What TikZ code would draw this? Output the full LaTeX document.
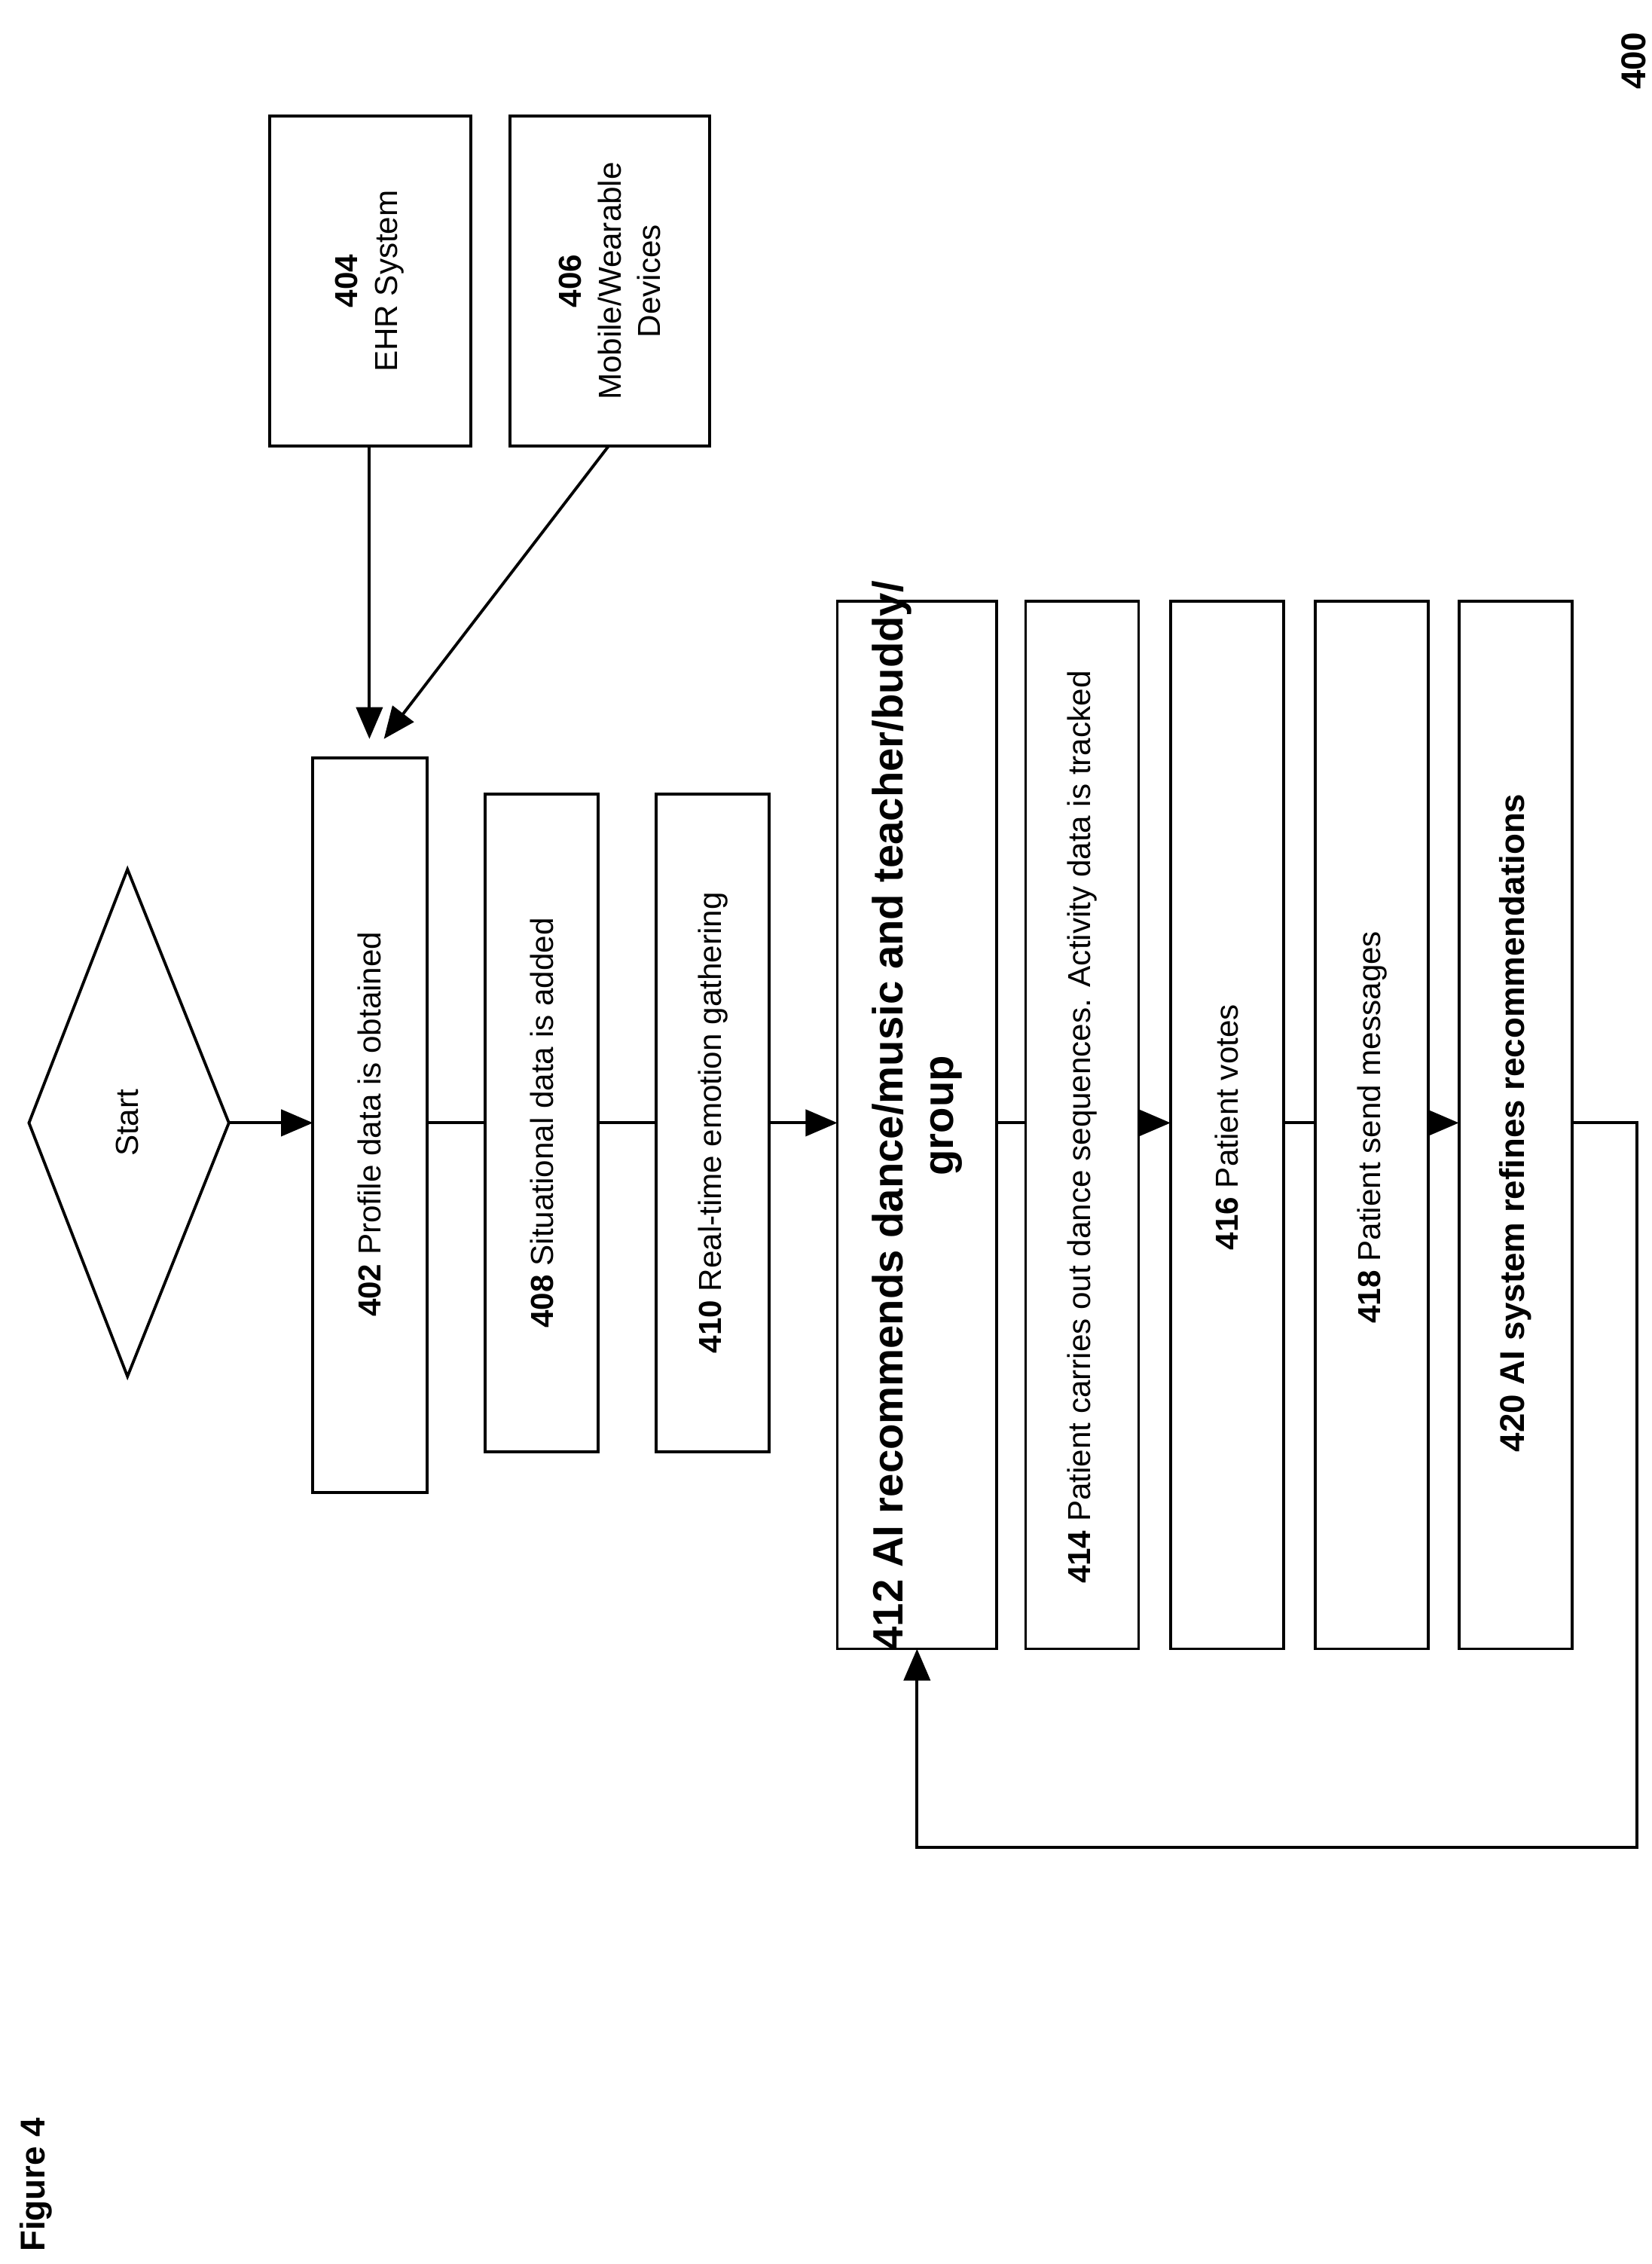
\documentclass[tikz,border=0pt]{standalone}
\usepackage{fontspec}
\setmainfont{Liberation Sans}
\usetikzlibrary{arrows.meta,shapes.geometric}
\begin{document}
\begin{tikzpicture}[x=0.01923cm,y=-0.01923cm,
  box/.style={draw,line width=1.1pt},
  lbl/.style={rotate=90,align=center,font=\fontsize{12}{15}\selectfont},
  arr/.style={-{Triangle[length=12pt,width=10pt]},line width=1.1pt},
  ln/.style={line width=1.1pt}]
\useasboundingbox (0,0) rectangle (1140,1562.6);
\node[rotate=90,font=\bfseries\fontsize{13}{15}\selectfont] (n400) at (1128,42) {400};
\node[rotate=90,font=\bfseries\fontsize{13}{15}\selectfont] (fig) at (25,1508) {Figure 4};
% diamond
\coordinate (dl) at (20,775); \coordinate (dt) at (88,600); \coordinate (dr) at (158,775); \coordinate (db) at (88,950);
\draw[ln] (dl)--(dt)--(dr)--(db)--cycle;
\node[lbl] (start) at (88,775) {Start};
% boxes
\draw[box] (186,80) rectangle (325,308); \node[lbl] (ehr) at (255,194) {\textbf{404}\\EHR System};
\draw[box] (352,80) rectangle (490,308); \node[lbl] (mob) at (421,194) {\textbf{406}\\Mobile/Wearable\\Devices};
\draw[box] (216,523) rectangle (295,1030); \node[lbl] (b402) at (255,776) {\textbf{402} Profile data is obtained};
\draw[box] (335,548) rectangle (413,1002); \node[lbl] (b408) at (374,775) {\textbf{408} Situational data is added};
\draw[box] (453,548) rectangle (531,1002); \node[lbl] (b410) at (492,775) {\textbf{410} Real-time emotion gathering};
\draw[box] (578,415) rectangle (688,1138); \node[lbl,font=\bfseries\fontsize{16}{19}\selectfont] (b412) at (633,770) {412 AI recommends dance/music and teacher/buddy/\\group};
\draw[box] (708,415) rectangle (786,1138); \node[lbl] (b414) at (747,778) {\textbf{414} Patient carries out dance sequences. Activity data is tracked};
\draw[box] (808,415) rectangle (886,1138); \node[lbl] (b416) at (847,778) {\textbf{416} Patient votes};
\draw[box] (908,415) rectangle (986,1138); \node[lbl] (b418) at (947,778) {\textbf{418} Patient send messages};
\draw[box] (1007,415) rectangle (1085,1138); \node[lbl,font=\bfseries\fontsize{13}{15}\selectfont] (b420) at (1046,775) {420 AI system refines recommendations};
% connectors
\draw[arr] (dr)--(216,775);
\draw[ln] (295,775)--(335,775);
\draw[ln] (413,775)--(453,775);
\draw[arr] (531,775)--(578,775);
\draw[ln] (688,775)--(708,775);
\draw[arr] (786,775)--(808,775);
\draw[ln] (886,775)--(908,775);
\draw[arr] (986,775)--(1007,775);
\draw[arr] (1085,775)--(1130,775)--(1130,1275)--(633,1275)--(633,1138);
\draw[arr] (255,308)--(255,510);
\draw[arr] (420,308)--(265,510);
\end{tikzpicture}
\end{document}
